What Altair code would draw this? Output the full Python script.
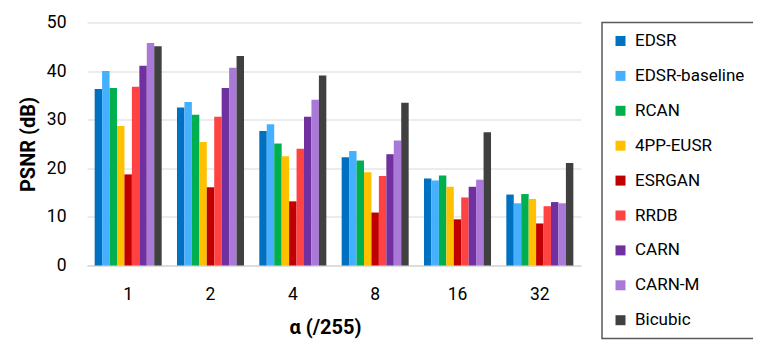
import altair as alt
import pandas as pd

alphas = ["1", "2", "4", "8", "16", "32"]
methods = ["EDSR", "EDSR-baseline", "RCAN", "4PP-EUSR", "ESRGAN", "RRDB", "CARN", "CARN-M", "Bicubic"]
colors = ["#0070C0", "#45B0FF", "#00B050", "#FFC000", "#C00000", "#FF4343", "#7030A0", "#AA78D6", "#404040"]

edsr = [36.3, 32.5, 27.7, 22.25, 17.9, 14.6]
edsr_baseline = [40.0, 33.65, 29.05, 23.55, 17.5, 12.8]
rcan = [36.5, 31.0, 25.1, 21.6, 18.5, 14.7]
pp_eusr = [28.7, 25.4, 22.5, 19.2, 16.2, 13.7]
esrgan = [18.75, 16.1, 13.2, 10.9, 9.5, 8.65]
rrdb = [36.8, 30.6, 24.0, 18.4, 14.0, 12.2]
carn = [41.1, 36.5, 30.6, 22.9, 16.2, 13.05]
carn_m = [45.8, 40.7, 34.1, 25.7, 17.65, 12.8]
bicubic = [45.1, 43.1, 39.1, 33.5, 27.4, 21.1]

series = [edsr, edsr_baseline, rcan, pp_eusr, esrgan, rrdb, carn, carn_m, bicubic]

rows = []
for m, vals in zip(methods, series):
    for a, v in zip(alphas, vals):
        rows.append({"alpha": a, "method": m, "psnr": v})
df = pd.DataFrame(rows)

FONT = "Roboto"

chart = alt.Chart(df).mark_bar().encode(
    x=alt.X("alpha:N", sort=alphas,
            scale=alt.Scale(paddingInner=0.186, paddingOuter=0.093),
            axis=alt.Axis(title="α (/255)", labelAngle=0, ticks=False,
                          labelFontSize=17.5, labelPadding=20, labelColor="#000000",
                          domainColor="#D9D9D9", domainWidth=1.5,
                          titleFontSize=20, titleFontWeight="bold", titleColor="#000000",
                          titleX=238, titleY=62, titleBaseline="middle")),
    xOffset=alt.XOffset("method:N", sort=methods,
                        scale=alt.Scale(domain=methods, paddingInner=0, paddingOuter=0)),
    y=alt.Y("psnr:Q",
            scale=alt.Scale(domain=[0, 50], nice=False),
            axis=alt.Axis(title="PSNR (dB)", values=[0, 10, 20, 30, 40, 50],
                          ticks=False, domain=False, labelFontSize=17.5, labelPadding=21,
                          labelColor="#000000", gridColor="#D9D9D9", gridWidth=1.2,
                          titleFontSize=20, titleFontWeight="bold", titleColor="#000000",
                          titleX=-59, titleY=121.5, titleAngle=-90, titleBaseline="middle",
                          titleAlign="center")),
    color=alt.Color("method:N", sort=methods,
                    scale=alt.Scale(domain=methods, range=colors),
                    legend=alt.Legend(title=None, orient="none", legendX=515, legendY=0,
                                      direction="vertical", columns=1,
                                      symbolType="square", symbolSize=100, symbolStrokeWidth=0,
                                      labelFontSize=17, labelColor="#000000", labelOffset=6,
                                      rowPadding=16.9, padding=10, labelLimit=300,
                                      strokeColor="#595959", fillColor="#FFFFFF")),
).properties(
    width=494, height=243,
    autosize=alt.AutoSizeParams(type="none"),
    padding={"left": 79, "top": 14.5, "right": 172, "bottom": 75},
).configure(font=FONT).configure_view(stroke=None).configure_legend(strokeWidth=1.5)

chart.save("out.html", embed_options={"renderer": "svg", "actions": False})
